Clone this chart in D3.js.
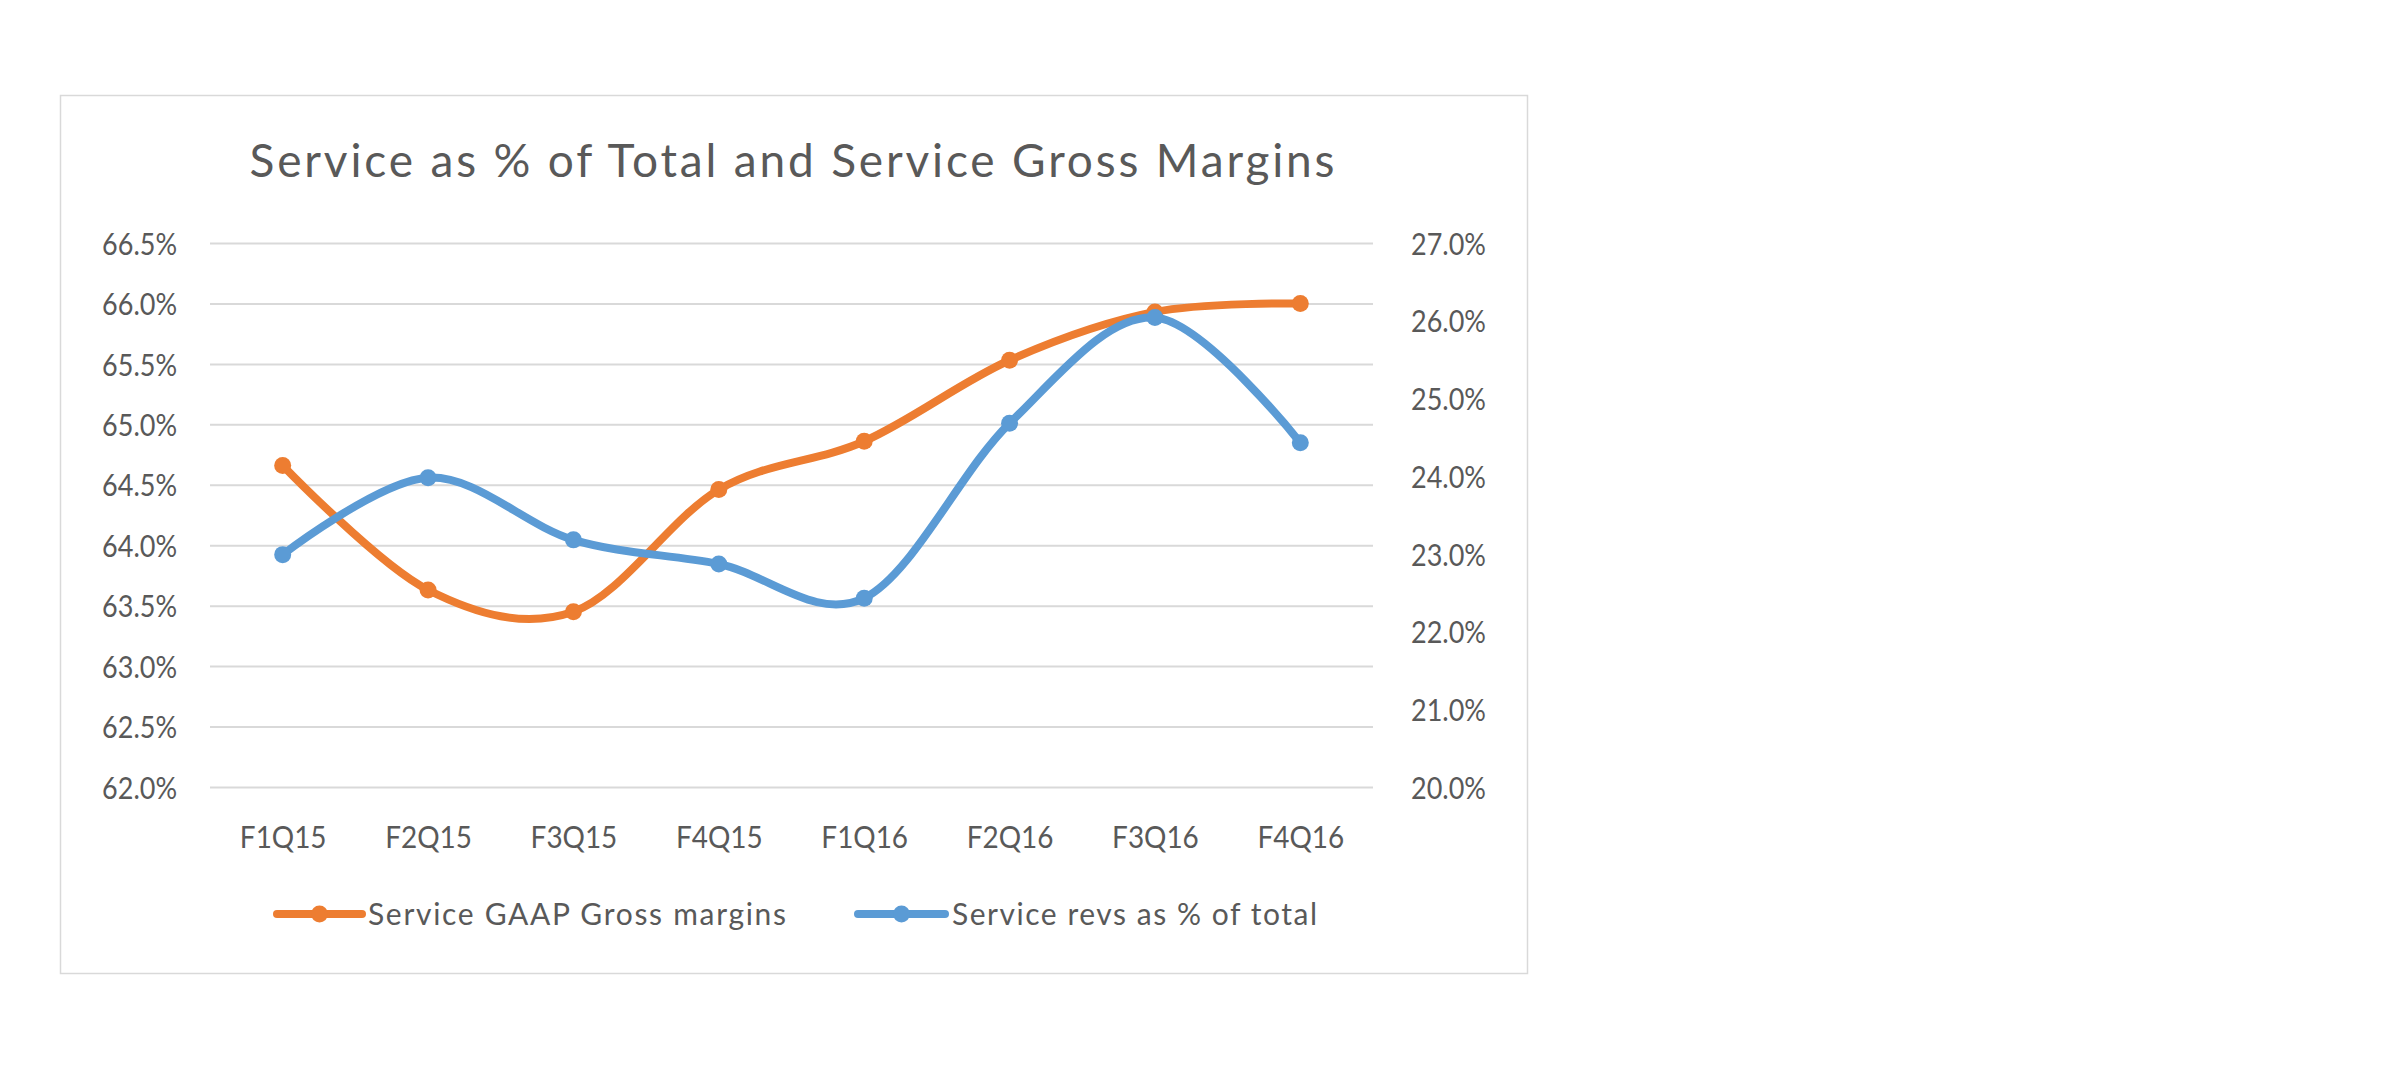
<!DOCTYPE html>
<html>
<head>
<meta charset="utf-8">
<script src="https://cdn.jsdelivr.net/npm/d3@7"></script>
<style>
  html, body { margin: 0; padding: 0; background: #ffffff; }
  svg text { font-family: Lato, "Open Sans", sans-serif; fill: #595959; }
</style>
</head>
<body>
<svg id="chart" width="2400" height="1086"></svg>
<script>
// ---- data ----
const categories = ["F1Q15", "F2Q15", "F3Q15", "F4Q15", "F1Q16", "F2Q16", "F3Q16", "F4Q16"];
const grossMargins = [64.66, 63.63, 63.45, 64.46, 64.86, 65.53, 65.93, 66.00];
const serviceShare = [22.99, 23.98, 23.18, 22.87, 22.43, 24.68, 26.04, 24.43];
const leftTicks = [62.0, 62.5, 63.0, 63.5, 64.0, 64.5, 65.0, 65.5, 66.0, 66.5];
const rightTicks = [20.0, 21.0, 22.0, 23.0, 24.0, 25.0, 26.0, 27.0];
const seriesNames = ["Service GAAP Gross margins", "Service revs as % of total"];
const titleText = "Service as % of Total and Service Gross Margins";

// ---- layout ----
const ORANGE = "#ED7D31", BLUE = "#5B9BD5", GRID = "#D9D9D9";
const plot = { left: 210, right: 1373, top: 243, bottom: 787 };
const K = 0.87; // horizontal condensing of axis labels to mimic Calibri widths

const svg = d3.select("#chart");

function condense(sel, k) {
  sel.each(function () {
    const w = this.getComputedTextLength();
    d3.select(this).attr("textLength", w * k).attr("lengthAdjust", "spacingAndGlyphs");
  });
}
function spread(sel, widthFn) {
  sel.each(function (d) {
    d3.select(this).attr("textLength", widthFn(d)).attr("lengthAdjust", "spacing");
  });
}

// chart area border
svg.append("rect")
  .attr("x", 60.5).attr("y", 95.5).attr("width", 1467).attr("height", 878)
  .attr("fill", "#fff").attr("stroke", GRID).attr("stroke-width", 1.5);

// scales
const x = d3.scalePoint().domain(categories).range([plot.left, plot.right]).padding(0.5);
const yL = d3.scaleLinear().domain([62.0, 66.5]).range([plot.bottom, plot.top]);
const yR = d3.scaleLinear().domain([20.0, 27.0]).range([plot.bottom, plot.top]);

// gridlines (left axis)
svg.append("g")
  .attr("transform", `translate(${plot.left},0)`)
  .call(d3.axisLeft(yL).tickValues(leftTicks).tickSize(-(plot.right - plot.left)).tickFormat(""))
  .call(g => g.select(".domain").remove())
  .call(g => g.selectAll("line").attr("stroke", GRID).attr("stroke-width", 2));

// left axis labels
const leftAxis = svg.append("g")
  .attr("transform", `translate(177,0)`)
  .call(d3.axisLeft(yL).tickValues(leftTicks).tickSize(0).tickPadding(0).tickFormat(d => d.toFixed(1) + "%"));
leftAxis.select(".domain").remove();
leftAxis.selectAll("text")
  .attr("font-size", 31).attr("font-family", "Lato").attr("fill", "#595959")
  .attr("dy", "0.36em").attr("text-anchor", "end")
  .call(condense, K);

// right axis labels
const rightAxis = svg.append("g")
  .attr("transform", `translate(1411,0)`)
  .call(d3.axisRight(yR).tickValues(rightTicks).tickSize(0).tickPadding(0).tickFormat(d => d.toFixed(1) + "%"));
rightAxis.select(".domain").remove();
rightAxis.selectAll("text")
  .attr("font-size", 31).attr("font-family", "Lato").attr("fill", "#595959")
  .attr("dy", "0.36em").attr("text-anchor", "start")
  .call(condense, K);

// category axis
const xAxis = svg.append("g")
  .attr("transform", `translate(0,${plot.bottom})`)
  .call(d3.axisBottom(x).tickSize(0).tickPadding(0));
xAxis.select(".domain").remove();
xAxis.selectAll("text")
  .attr("font-size", 31).attr("font-family", "Lato").attr("fill", "#595959")
  .attr("dy", "0").attr("y", 61)
  .call(condense, 0.9);

// lines
const curve = d3.curveCatmullRom.alpha(0);
const lineL = d3.line().x((d, i) => x(categories[i])).y(d => yL(d)).curve(curve);
const lineR = d3.line().x((d, i) => x(categories[i])).y(d => yR(d)).curve(curve);

svg.append("path").datum(grossMargins)
  .attr("d", lineL).attr("fill", "none").attr("stroke", ORANGE)
  .attr("stroke-width", 8).attr("stroke-linecap", "round").attr("stroke-linejoin", "round");
svg.append("g").selectAll("circle").data(grossMargins).join("circle")
  .attr("cx", (d, i) => x(categories[i])).attr("cy", d => yL(d)).attr("r", 8.5).attr("fill", ORANGE);

svg.append("path").datum(serviceShare)
  .attr("d", lineR).attr("fill", "none").attr("stroke", BLUE)
  .attr("stroke-width", 8).attr("stroke-linecap", "round").attr("stroke-linejoin", "round");
svg.append("g").selectAll("circle").data(serviceShare).join("circle")
  .attr("cx", (d, i) => x(categories[i])).attr("cy", d => yR(d)).attr("r", 8.5).attr("fill", BLUE);

// title
svg.append("text")
  .attr("x", 792).attr("y", 177).attr("text-anchor", "middle")
  .attr("font-size", 46).attr("font-family", "Lato").attr("fill", "#595959")
  .text(titleText)
  .call(spread, () => 1085);

// legend
const legendItems = [
  { name: seriesNames[0], color: ORANGE, x0: 277, x1: 362, tx: 368, w: 418 },
  { name: seriesNames[1], color: BLUE, x0: 858, x1: 945, tx: 952, w: 365 }
];
const legendY = 914;
const lg = svg.append("g").selectAll("g").data(legendItems).join("g");
lg.append("line")
  .attr("x1", d => d.x0).attr("x2", d => d.x1).attr("y1", legendY).attr("y2", legendY)
  .attr("stroke", d => d.color).attr("stroke-width", 8).attr("stroke-linecap", "round");
lg.append("circle")
  .attr("cx", d => (d.x0 + d.x1) / 2).attr("cy", legendY).attr("r", 8.5).attr("fill", d => d.color);
lg.append("text")
  .attr("x", d => d.tx).attr("y", legendY + 11)
  .attr("font-size", 30).attr("font-family", "Lato").attr("fill", "#595959")
  .text(d => d.name)
  .call(spread, d => d.w);
</script>
</body>
</html>
